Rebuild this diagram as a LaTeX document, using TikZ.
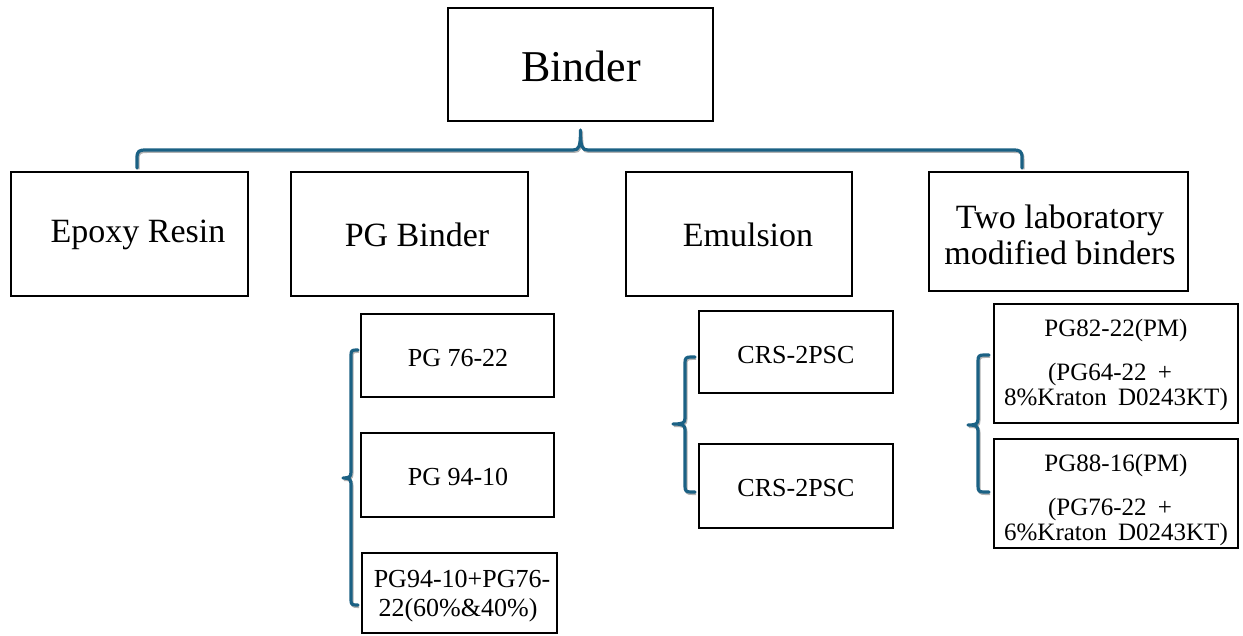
\documentclass[tikz,border=0pt]{standalone}
\usepackage{fontspec}
\setmainfont{Liberation Serif}
\definecolor{bracecol}{HTML}{1B6184}
\begin{document}
\begin{tikzpicture}[x=1pt,y=-1pt,
  box/.style={draw=black, line width=1.4pt, inner sep=0pt, fill=white},
  big/.style={font=\fontsize{44}{50}\selectfont},
  mid/.style={font=\fontsize{34}{36}\selectfont, align=center},
  small/.style={font=\fontsize{26}{30}\selectfont, align=center},
  line/.style={font=\fontsize{25}{30}\selectfont, anchor=base, inner sep=0pt},
  brace/.style={draw=bracecol, line width=3.2pt, line cap=round, line join=round,
    preaction={draw=black!30, line width=3pt,
      transform canvas={xshift=1pt,yshift=-1.5pt}}}]
\useasboundingbox (0,0) rectangle (1243,636);

% top level
\node[box, minimum width=265pt, minimum height=113pt] (binder) at (580.5,64.5) {};
\node[big] (binderT) at (581,66) {Binder};

% second level boxes
\node[box, minimum width=237pt, minimum height=124pt] (epoxy) at (129.5,234) {};
\node[box, minimum width=237pt, minimum height=124pt] (pgb) at (409.5,234) {};
\node[box, minimum width=226pt, minimum height=124pt] (emul) at (739,234) {};
\node[box, minimum width=259pt, minimum height=119pt] (lab) at (1058.5,231.5) {};
\node[mid] (epoxyT) at (138,235) {Epoxy Resin};
\node[mid] (pgbT) at (417,235) {PG Binder};
\node[mid] (emulT) at (748,235) {Emulsion};
\node[mid] (labT) at (1060,235) {Two laboratory\\modified binders};

% PG binder grades
\node[box, minimum width=193pt, minimum height=83pt] (pg1) at (457.5,355.5) {};
\node[box, minimum width=193pt, minimum height=84pt] (pg2) at (457.5,475) {};
\node[box, minimum width=195pt, minimum height=80pt] (pg3) at (459.5,593) {};
\node[small] (pg1T) at (458,358) {PG 76-22};
\node[small] (pg2T) at (458,477) {PG 94-10};
\node[line, font=\fontsize{26}{30}\selectfont] (pg3a) at (462,587) {PG94-10+PG76-};
\node[line, font=\fontsize{26}{30}\selectfont] (pg3b) at (458,616) {22(60\%\&40\%)};

% emulsions
\node[box, minimum width=194pt, minimum height=82pt] (crs1) at (796,352) {};
\node[box, minimum width=194pt, minimum height=84pt] (crs2) at (796,486) {};
\node[small] (crs1T) at (796,355) {CRS-2PSC};
\node[small] (crs2T) at (796,488) {CRS-2PSC};

% modified binders
\node[box, minimum width=244pt, minimum height=119pt] (pm1) at (1116,363.5) {};
\node[box, minimum width=244pt, minimum height=109pt] (pm2) at (1116,493.5) {};
\node[line] (pm1a) at (1116,337) {PG82-22(PM)};
\node[line] (pm1b) at (1110,381) {(PG64-22\hspace{0.45em}+};
\node[line] (pm1c) at (1116,406) {8\%Kraton\hspace{0.45em}D0243KT)};
\node[line] (pm2a) at (1116,471) {PG88-16(PM)};
\node[line] (pm2b) at (1110,515) {(PG76-22\hspace{0.45em}+};
\node[line] (pm2c) at (1116,540) {6\%Kraton\hspace{0.45em}D0243KT)};

% horizontal brace under the root
\coordinate (tbL) at (137,168);
\coordinate (tbR) at (1022,168);
\coordinate (tbTip) at (580.5,130);
\draw[brace] (tbL) -- (137,158) .. controls (137,151) and (139,150) .. (146,150)
  -- (573,150) .. controls (579,150) and (580.5,147) .. (tbTip)
  .. controls (580.5,147) and (582,150) .. (588,150)
  -- (1013,150) .. controls (1020,150) and (1022,151) .. (1022,158) -- (tbR);

% brace grouping the PG grades
\coordinate (b1Top) at (358,350);
\coordinate (b1Bot) at (358,605);
\coordinate (b1Tip) at (343,478);
\draw[brace] (b1Top) -- (356,350) .. controls (352,350) and (351,351) .. (351,355)
  -- (351,472) .. controls (351,477) and (349,478) .. (b1Tip)
  .. controls (349,478) and (351,479) .. (351,484)
  -- (351,600) .. controls (351,604) and (352,605) .. (356,605) -- (b1Bot);

% brace grouping the emulsions
\coordinate (b2Top) at (695,357);
\coordinate (b2Bot) at (695,492);
\coordinate (b2Tip) at (673,424);
\draw[brace] (b2Top) -- (691,357) .. controls (686,357) and (685,358) .. (685,363)
  -- (685,418) .. controls (685,423) and (683,424) .. (b2Tip)
  .. controls (683,424) and (685,425) .. (685,430)
  -- (685,486) .. controls (685,491) and (686,492) .. (691,492) -- (b2Bot);

% brace grouping the modified binders
\coordinate (b3Top) at (989,355);
\coordinate (b3Bot) at (989,492);
\coordinate (b3Tip) at (968,425);
\draw[brace] (b3Top) -- (984,355) .. controls (979,355) and (978,356) .. (978,361)
  -- (978,419) .. controls (978,424) and (976,425) .. (b3Tip)
  .. controls (976,425) and (978,426) .. (978,431)
  -- (978,486) .. controls (978,491) and (979,492) .. (984,492) -- (b3Bot);
\end{tikzpicture}
\end{document}
